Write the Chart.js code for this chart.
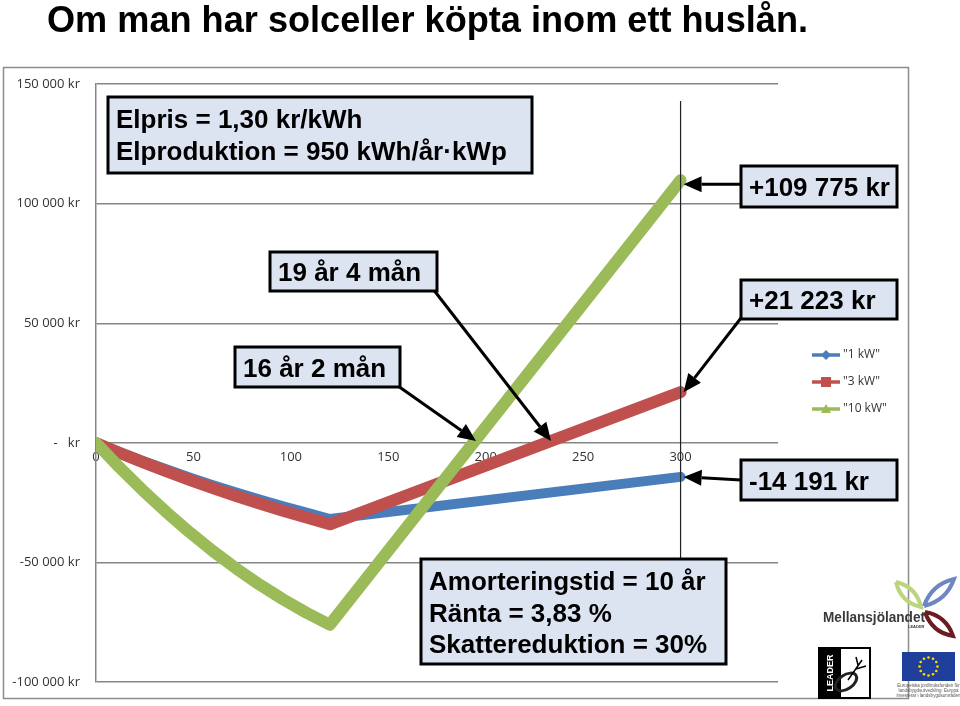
<!DOCTYPE html>
<html>

<head>
    <meta charset='utf-8'>
    <title>Solceller i huslån</title>
    <script src="https://cdn.jsdelivr.net/npm/chart.js@4.4.0/dist/chart.umd.min.js"></script>
    <style>
        body { margin: 0; background: #fff; }
    </style>
    <script>
        onload = ritaDiagram;

        const rubrik = 'Om man har solceller köpta inom ett huslån.';

        // månader efter köpet (x) och ackumulerat resultat i kr (y)
        const manader = [0, 12, 24, 36, 48, 60, 72, 84, 96, 108, 120, 300];
        const serie1kW = [0, -3820, -7510, -11030, -14420, -17650, -20740, -23680, -26470, -29120, -31800, -14191];
        const serie3kW = [0, -4090, -8030, -11800, -15420, -18880, -22180, -25330, -28310, -31140, -34000, 21223];
        const serie10kW = [0, -10190, -19810, -28850, -37310, -45200, -52510, -59250, -65400, -70990, -76000, 109775];
        const serieNamn = ['"1 kW"', '"3 kW"', '"10 kW"'];

        const xTicks = [0, 50, 100, 150, 200, 250, 300];
        const yTicks = [-100000, -50000, 0, 50000, 100000, 150000];
        const yTickText = ['-100 000 kr', '-50 000 kr', '-   kr', '50 000 kr', '100 000 kr', '150 000 kr'];

        const slutManad = 300;
        const breakEven = [194, 232]; // 16 år 2 mån, 19 år 4 mån

        const farger = ['#4a7ebb', '#c0504d', '#9bbb59'];

        function punkter(serie) {
            return manader.map((m, i) => ({ x: m, y: serie[i] }));
        }

        function pil(ctx, x1, y1, x2, y2) {
            const a = Math.atan2(y2 - y1, x2 - x1);
            const L = 18, W = 8;
            const bx = x2 - L * Math.cos(a), by = y2 - L * Math.sin(a);
            ctx.strokeStyle = '#000';
            ctx.fillStyle = '#000';
            ctx.lineWidth = 3;
            ctx.beginPath(); ctx.moveTo(x1, y1); ctx.lineTo(bx, by); ctx.stroke();
            ctx.beginPath();
            ctx.moveTo(x2, y2);
            ctx.lineTo(bx + W * Math.sin(a), by - W * Math.cos(a));
            ctx.lineTo(bx - W * Math.sin(a), by + W * Math.cos(a));
            ctx.closePath(); ctx.fill();
        }

        function ruta(ctx, r) {
            ctx.fillStyle = '#dce3f1';
            ctx.fillRect(r.x, r.y, r.w, r.h);
            ctx.strokeStyle = '#000';
            ctx.lineWidth = 3;
            ctx.strokeRect(r.x, r.y, r.w, r.h);
            ctx.fillStyle = '#000';
            ctx.font = 'bold 26px "Liberation Sans", Arial, sans-serif';
            ctx.textAlign = 'left';
            ctx.textBaseline = 'alphabetic';
            if (r.rader.length == 1) {
                ctx.fillText(r.rader[0], r.x + 8, r.y + r.h / 2 + 9.5);
            } else {
                r.rader.forEach((t, i) => ctx.fillText(t, r.x + 8, r.y + 31 + i * 31.5));
            }
        }

        function blad(ctx, x1, y1, x2, y2, b, farg) {
            const mx = (x1 + x2) / 2, my = (y1 + y2) / 2;
            const len = Math.hypot(x2 - x1, y2 - y1);
            const nx = -(y2 - y1) / len * b, ny = (x2 - x1) / len * b;
            ctx.beginPath();
            ctx.moveTo(x1, y1);
            ctx.quadraticCurveTo(mx + nx, my + ny, x2, y2);
            ctx.quadraticCurveTo(mx - nx, my - ny, x1, y1);
            ctx.lineWidth = 4;
            ctx.strokeStyle = farg;
            ctx.stroke();
        }

        function loggor(ctx) {
            // Mellansjölandet
            blad(ctx, 896, 582, 921, 607, 11, '#bcd47e');
            blad(ctx, 924, 606, 954, 579, 11, '#7086c4');
            blad(ctx, 925, 612, 953, 636, 11, '#6b1c20');
            ctx.fillStyle = '#3a3a3a';
            ctx.textAlign = 'left';
            ctx.textBaseline = 'alphabetic';
            ctx.font = 'bold 14px "Liberation Sans", sans-serif';
            ctx.fillText('Mellansjölandet', 823, 622, 102);
            ctx.font = 'bold 4px "Liberation Sans", sans-serif';
            ctx.fillText('LEADER', 908, 628);

            // LEADER
            ctx.fillStyle = '#000';
            ctx.fillRect(819, 648, 22, 50);
            ctx.strokeStyle = '#000';
            ctx.lineWidth = 2;
            ctx.strokeRect(819, 648, 51, 50);
            ctx.save();
            ctx.translate(831, 673);
            ctx.rotate(-Math.PI / 2);
            ctx.fillStyle = '#fff';
            ctx.font = 'bold 9px "Liberation Sans", sans-serif';
            ctx.textAlign = 'center';
            ctx.textBaseline = 'middle';
            ctx.fillText('LEADER', 0, 0);
            ctx.restore();
            ctx.save();
            ctx.translate(846, 682);
            ctx.rotate(-0.6);
            ctx.beginPath();
            ctx.ellipse(0, 0, 12, 7, 0, 0, Math.PI * 2);
            ctx.lineWidth = 3;
            ctx.strokeStyle = '#222';
            ctx.stroke();
            ctx.restore();
            ctx.beginPath();
            ctx.moveTo(848, 680); ctx.lineTo(862, 660);
            ctx.moveTo(856, 669); ctx.lineTo(866, 666);
            ctx.moveTo(858, 665); ctx.lineTo(856, 657);
            ctx.lineWidth = 1.5;
            ctx.stroke();

            // EU-flagga
            ctx.fillStyle = '#1f3f9a';
            ctx.fillRect(902, 652, 53, 29);
            ctx.fillStyle = '#ffdd00';
            for (let i = 0; i < 12; i++) {
                const v = i * Math.PI / 6;
                ctx.beginPath();
                ctx.arc(928.5 + 9 * Math.cos(v), 666.5 + 9 * Math.sin(v), 1.3, 0, Math.PI * 2);
                ctx.fill();
            }
            ctx.fillStyle = '#555';
            ctx.font = '4.5px "Liberation Sans", sans-serif';
            ctx.textAlign = 'center';
            ctx.fillText('Europeiska jordbruksfonden för', 928.5, 687);
            ctx.fillText('landsbygdsutveckling: Europa', 928.5, 692);
            ctx.fillText('investerar i landsbygdsområden', 928.5, 697);
        }

        const ritPlugin = {
            id: 'ritPlugin',
            beforeDraw(chart) {
                const ctx = chart.ctx;
                ctx.save();
                ctx.fillStyle = '#fff';
                ctx.fillRect(0, 0, chart.width, chart.height);
                ctx.strokeStyle = '#8c8c8c';
                ctx.lineWidth = 1.5;
                ctx.strokeRect(3.5, 67.5, 905, 631);
                ctx.fillStyle = '#000';
                ctx.font = 'bold 37px "Liberation Sans", Arial, sans-serif';
                ctx.textAlign = 'left';
                ctx.textBaseline = 'alphabetic';
                ctx.fillText(rubrik, 47, 32, 761);
                ctx.restore();
            },
            afterDraw(chart) {
                const ctx = chart.ctx;
                const xs = chart.scales.x, ys = chart.scales.y;
                const x300 = xs.getPixelForValue(slutManad);
                ctx.save();

                // lodrät linje vid 25 år
                ctx.strokeStyle = '#222';
                ctx.lineWidth = 1.2;
                ctx.beginPath();
                ctx.moveTo(x300, 101);
                ctx.lineTo(x300, 559);
                ctx.stroke();

                // pilar
                const slut = [serie10kW, serie3kW, serie1kW].map(s => s[s.length - 1]);
                const yGron = ys.getPixelForValue(slut[0]) + 4;
                pil(ctx, 741, yGron, x300 + 3, yGron);
                pil(ctx, 741, 318, x300 + 3, ys.getPixelForValue(slut[1]));
                pil(ctx, 741, 480, x300 + 3, ys.getPixelForValue(slut[2]));
                pil(ctx, 433, 289, xs.getPixelForValue(breakEven[1]) + 3, ys.getPixelForValue(0) - 2);
                pil(ctx, 398, 386, xs.getPixelForValue(breakEven[0]) + 2, ys.getPixelForValue(0) - 2);

                // textrutor
                const rutor = [
                    { x: 108, y: 97, w: 424, h: 76, rader: ['Elpris = 1,30 kr/kWh', 'Elproduktion = 950 kWh/år·kWp'] },
                    { x: 741, y: 166, w: 156, h: 41, rader: ['+109 775 kr'] },
                    { x: 270, y: 252, w: 167, h: 39, rader: ['19 år 4 mån'] },
                    { x: 741, y: 280, w: 156, h: 39, rader: ['+21 223 kr'] },
                    { x: 235, y: 347, w: 165, h: 40, rader: ['16 år 2 mån'] },
                    { x: 741, y: 460, w: 156, h: 40, rader: ['-14 191 kr'] },
                    { x: 421, y: 559, w: 305, h: 105, rader: ['Amorteringstid = 10 år', 'Ränta = 3,83 %', 'Skattereduktion = 30%'] }
                ];
                rutor.forEach(r => ruta(ctx, r));

                // förklaring
                chart.data.datasets.forEach((ds, i) => {
                    const y = 355 + i * 27;
                    ctx.strokeStyle = ds.borderColor;
                    ctx.fillStyle = ds.borderColor;
                    ctx.lineWidth = 3.5;
                    ctx.beginPath(); ctx.moveTo(812, y); ctx.lineTo(840, y); ctx.stroke();
                    ctx.beginPath();
                    if (i == 0) {
                        ctx.moveTo(826, y - 5); ctx.lineTo(831, y); ctx.lineTo(826, y + 5); ctx.lineTo(821, y);
                    } else if (i == 1) {
                        ctx.rect(821, y - 5, 10, 10);
                    } else {
                        ctx.moveTo(826, y - 5); ctx.lineTo(831, y + 4); ctx.lineTo(821, y + 4);
                    }
                    ctx.closePath(); ctx.fill();
                    ctx.fillStyle = '#333';
                    ctx.font = '12px "Open Sans", sans-serif';
                    ctx.textAlign = 'left';
                    ctx.textBaseline = 'middle';
                    ctx.fillText(ds.label, 843, y);
                });

                loggor(ctx);
                ctx.restore();
            }
        };

        function ritaDiagram() {
            const ctx = document.getElementById('diagram').getContext('2d');
            const tickFont = { family: '"Open Sans", sans-serif', size: 13 };
            new Chart(ctx, {
                type: 'line',
                data: {
                    datasets: [
                        { label: serieNamn[0], data: punkter(serie1kW), borderColor: farger[0], borderWidth: 10, order: 3 },
                        { label: serieNamn[1], data: punkter(serie3kW), borderColor: farger[1], borderWidth: 12, order: 2 },
                        { label: serieNamn[2], data: punkter(serie10kW), borderColor: farger[2], borderWidth: 12, order: 1 }
                    ]
                },
                options: {
                    responsive: false,
                    animation: false,
                    devicePixelRatio: 1,
                    layout: { padding: { top: 84, left: 0, right: 182, bottom: 23 } },
                    elements: {
                        point: { radius: 0, hoverRadius: 0 },
                        line: { tension: 0, borderCapStyle: 'round', borderJoinStyle: 'round', fill: false }
                    },
                    plugins: { legend: { display: false }, tooltip: { enabled: false } },
                    scales: {
                        x: {
                            type: 'linear',
                            position: { y: 0 },
                            min: 0,
                            max: 350,
                            afterBuildTicks: s => { s.ticks = xTicks.map(v => ({ value: v })); },
                            afterFit: s => { s.height = 0; },
                            grid: { display: false, drawTicks: false },
                            border: { display: false },
                            ticks: { padding: 7, color: '#333', font: tickFont, maxRotation: 0, autoSkip: false }
                        },
                        y: {
                            min: -100000,
                            max: 150000,
                            afterBuildTicks: s => { s.ticks = yTicks.map(v => ({ value: v })); },
                            afterFit: s => { s.width = 96; },
                            grid: { color: '#858585', lineWidth: 1.5, drawTicks: false },
                            border: { color: '#858585', width: 1.5 },
                            ticks: {
                                padding: 16, color: '#333', font: tickFont,
                                callback: v => yTickText[yTicks.indexOf(v)]
                            }
                        }
                    }
                },
                plugins: [ritPlugin]
            });
        }
    </script>
</head>

<body>
    <canvas id="diagram" width="960" height="706"></canvas>
</body>

</html>
